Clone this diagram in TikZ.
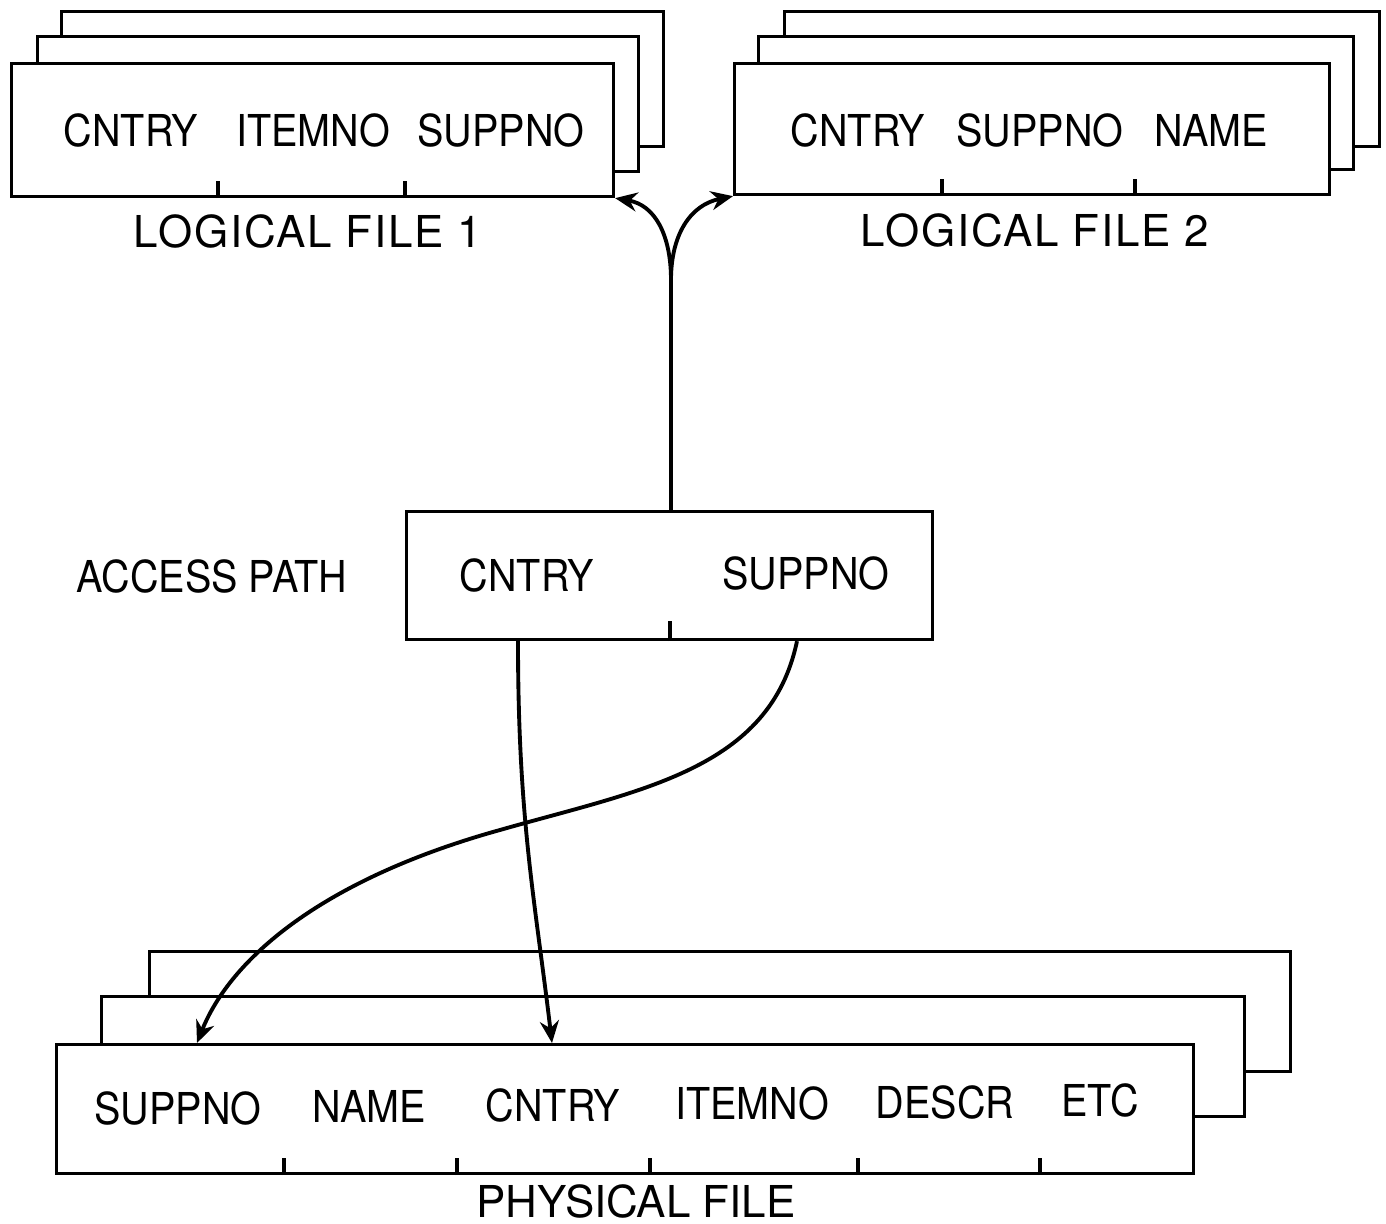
\documentclass[tikz,border=0pt]{standalone}
\usepackage{fontspec}
\setmainfont{TeX Gyre Heros}
\newfontfamily\fldfont[FakeStretch=0.9]{TeX Gyre Heros}
\newfontfamily\lblfont[LetterSpace=4]{TeX Gyre Heros}
\usetikzlibrary{arrows.meta,positioning,calc}

\begin{document}
\begin{tikzpicture}[
  x=0.1mm, y=-0.1mm,
  font=\fontsize{12.5}{15}\selectfont,
  rec/.style={draw, fill=white, line width=0.9pt, inner sep=0pt,
              anchor=north west},
  fld/.style={inner sep=0pt, anchor=base, font=\fontsize{12.5}{15}\fldfont},
  lbl/.style={inner sep=0pt, anchor=base},
  tck/.style={line width=0.9pt},
  ar/.style={-{Stealth[length=2.2mm, width=1.9mm]}, line width=1.1pt}
]
\useasboundingbox (0,0) rectangle (1386,1224);

% --- logical file 1 (three stacked records) ----------------------------
\node[rec, minimum width=60.2mm, minimum height=13.5mm] (lf1c) at (60,10) {};
\node[rec, minimum width=60.1mm, minimum height=13.5mm] (lf1b) at (36,35) {};
\node[rec, minimum width=60.2mm, minimum height=13.3mm] (lf1)  at (10,62) {};
\node[fld] (lf1a1) at (131,147) {CNTRY};
\node[fld] (lf1a2) at (313,147) {ITEMNO};
\node[fld] (lf1a3) at (501,147) {SUPPNO};
\foreach \t in {208,395}{%
  \draw[tck] ($(lf1.south west)+(\t,0)$) -- ++(0,-17);
}
\node[lbl, font=\fontsize{12.5}{15}\lblfont] (lf1lbl) at (308,248) {LOGICAL FILE 1};

% --- logical file 2 ------------------------------------------------------
\node[rec, minimum width=59.5mm, minimum height=13.5mm] (lf2c) at (783,10) {};
\node[rec, minimum width=59.5mm, minimum height=13.3mm] (lf2b) at (757,35) {};
\node[rec, minimum width=59.5mm, minimum height=13.1mm] (lf2)  at (733,62) {};
\node[fld] (lf2a1) at (858,147) {CNTRY};
\node[fld] (lf2a2) at (1040,147) {SUPPNO};
\node[fld] (lf2a3) at (1211,147) {NAME};
\foreach \t in {209,402}{%
  \draw[tck] ($(lf2.south west)+(\t,0)$) -- ++(0,-17);
}
\node[lbl, font=\fontsize{12.5}{15}\lblfont] (lf2lbl) at (1035,247) {LOGICAL FILE 2};

% --- access path ---------------------------------------------------------
\node[rec, minimum width=52.6mm, minimum height=12.8mm] (ap) at (405,510) {};
\node[fld] (apa1) at (527,592) {CNTRY};
\node[fld] (apa2) at (806,590) {SUPPNO};
\draw[tck] ($(ap.south west)+(265,0)$) -- ++(0,-20);
\node[fld] (aplbl) at (212,593) {ACCESS PATH};

% --- physical file -------------------------------------------------------
\node[rec, minimum width=114.1mm, minimum height=12.0mm] (pfc) at (148,950) {};
\node[rec, minimum width=114.3mm, minimum height=12.0mm] (pfb) at (100,995) {};
\node[rec, minimum width=113.7mm, minimum height=12.9mm] (pf)  at (55,1043) {};
\node[fld] (pfa1) at (178,1125) {SUPPNO};
\node[fld] (pfa2) at (369,1123) {NAME};
\node[fld] (pfa3) at (553,1122) {CNTRY};
\node[fld] (pfa4) at (752,1120) {ITEMNO};
\node[fld] (pfa5) at (945,1119) {DESCR};
\node[fld] (pfa6) at (1100,1117) {ETC};
\foreach \t in {229,402,595,803,985}{%
  \draw[tck] ($(pf.south west)+(\t,0)$) -- ++(0,-17);
}
\node[lbl] (pflbl) at (636,1218) {PHYSICAL FILE};

% --- access path to the logical files ------------------------------------
\coordinate (fork) at (671,280);
\draw[ar] (ap.north -| fork) -- (fork)
  .. controls (671,235) and (655,205) .. (lf1.south east);
\draw[ar] (fork)
  .. controls (671,235) and (690,205) .. (lf2.south west);

% --- access path to the physical file ------------------------------------
\coordinate (apC) at ($(ap.south west)+(113,0)$);
\coordinate (apS) at ($(ap.south west)+(392,0)$);
\coordinate (pfC) at ($(pf.north west)+(497,0)$);
\coordinate (pfS) at ($(pf.north west)+(142,0)$);
\draw[ar] (apC) .. controls (518,820) and (535,900) .. (pfC);
\draw[ar] (apS) .. controls (770,770) and (640,790) .. (500,830)
  .. controls (320,880) and (230,960) .. (pfS);

\end{tikzpicture}
\end{document}
